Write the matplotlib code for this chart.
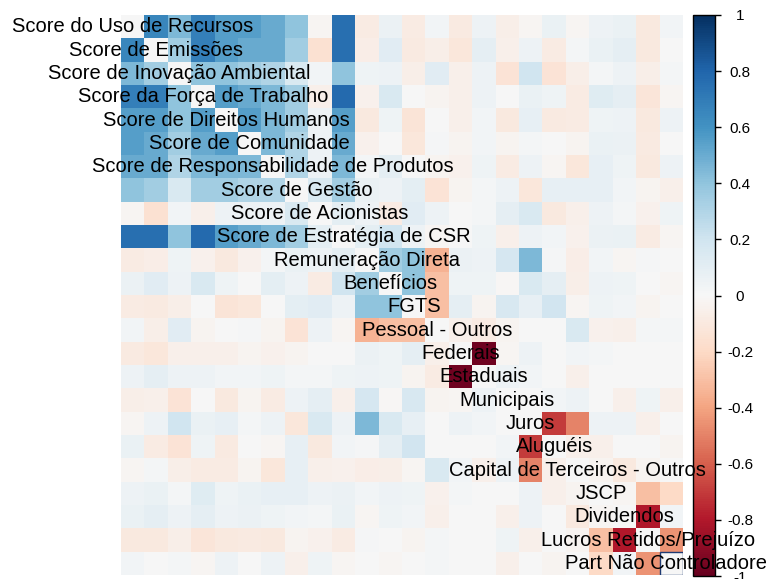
import matplotlib.pyplot as plt
import numpy as np
from matplotlib.patches import Rectangle

plt.rcParams['font.family'] = ['Liberation Sans', 'DejaVu Sans']

labels = [
    'Score do Uso de Recursos', 'Score de Emissões', 'Score de Inovação Ambiental',
    'Score da Força de Trabalho', 'Score de Direitos Humanos', 'Score de Comunidade',
    'Score de Responsabilidade de Produtos', 'Score de Gestão', 'Score de Acionistas',
    'Score de Estratégia de CSR', 'Remuneração Direta', 'Benefícios', 'FGTS',
    'Pessoal - Outros', 'Federais', 'Estaduais', 'Municipais', 'Juros', 'Aluguéis',
    'Capital de Terceiros - Outros', 'JSCP', 'Dividendos', 'Lucros Retidos/Prejuízo',
    'Part Não Controladores',
]

# lower triangle of the correlation matrix: row i holds columns 0..i-1
lower = [
    [],
    [0.65],
    [0.45, 0.35],
    [0.68, 0.68, 0.40],
    [0.55, 0.55, 0.40, 0.55],
    [0.55, 0.50, 0.35, 0.50, 0.55],
    [0.50, 0.50, 0.30, 0.45, 0.45, 0.45],
    [0.40, 0.35, 0.15, 0.35, 0.35, 0.30, 0.30],
    [-0.02, -0.15, 0.03, -0.05, 0.05, 0.05, 0.05, 0.15],
    [0.75, 0.75, 0.40, 0.78, 0.55, 0.50, 0.45, 0.35, 0.10],
    [-0.08, -0.07, 0.04, -0.04, -0.10, -0.04, 0.02, 0.07, 0.05, 0.10],
    [0.06, 0.11, 0.05, 0.15, 0.04, 0.00, 0.10, 0.05, -0.08, 0.20, 0.35],
    [-0.08, -0.09, -0.06, 0.00, -0.13, -0.11, 0.00, 0.10, 0.11, 0.05, 0.40, 0.40],
    [0.03, -0.06, 0.11, -0.03, 0.00, 0.01, -0.03, -0.14, 0.05, -0.02, -0.35, -0.30,
     -0.30],
    [-0.09, -0.11, -0.05, -0.05, -0.05, -0.03, -0.04, -0.03, 0.00, 0.00, 0.06, 0.04,
     0.09, -0.05],
    [0.05, 0.09, 0.05, 0.05, 0.03, 0.03, 0.04, 0.02, 0.02, 0.04, 0.05, 0.04, -0.03,
     -0.08, -0.97],
    [-0.06, -0.05, -0.14, 0.00, -0.10, -0.03, -0.08, 0.05, 0.09, -0.05, 0.17, -0.01,
     0.16, -0.03, -0.02, 0.05],
    [-0.02, 0.05, 0.20, 0.07, 0.08, 0.02, 0.05, -0.11, 0.15, 0.05, 0.45, 0.15, 0.08,
     0.00, 0.05, 0.03, 0.00],
    [0.07, -0.08, -0.14, 0.04, -0.09, 0.00, -0.02, 0.08, -0.10, 0.03, 0.01, 0.09,
     0.19, 0.00, 0.00, 0.00, 0.03, -0.70],
    [-0.02, 0.02, -0.06, -0.08, -0.08, -0.03, -0.11, 0.08, -0.05, -0.04, -0.07, -0.06,
     -0.02, 0.15, 0.03, -0.05, 0.05, -0.50, -0.05],
    [0.05, 0.07, 0.02, 0.12, 0.04, 0.07, 0.08, 0.08, 0.05, 0.06, 0.03, 0.05, 0.04,
     -0.04, 0.02, 0.00, 0.00, 0.05, -0.05, -0.03],
    [0.07, 0.09, 0.05, 0.09, 0.05, 0.06, 0.04, 0.03, 0.02, 0.07, -0.02, 0.04, 0.03,
     -0.05, 0.00, 0.00, -0.05, 0.05, 0.00, -0.10, -0.02],
    [-0.10, -0.10, -0.06, -0.12, -0.10, -0.09, -0.10, -0.03, -0.04, -0.08, 0.01, 0.00,
     -0.03, 0.02, 0.00, 0.00, 0.04, -0.05, 0.00, -0.03, -0.30, -0.80],
    [0.03, 0.00, 0.02, -0.02, 0.05, 0.00, 0.05, -0.05, 0.04, -0.02, 0.00, -0.02, 0.00,
     0.02, 0.00, 0.00, -0.05, 0.00, -0.03, 0.00, -0.20, 0.03, -0.45],
]

cbar_ticks = [-1, -0.8, -0.6, -0.4, -0.2, 0, 0.2, 0.4, 0.6, 0.8, 1]
cbar_labels = ['-1', '-0.8', '-0.6', '-0.4', '-0.2', '0', '0.2', '0.4', '0.6', '0.8', '1']

n = len(labels)
corr = np.zeros((n, n))
for i, row in enumerate(lower):
    for j, v in enumerate(row):
        corr[i, j] = v
        corr[j, i] = v
# diagonal stays blank (white)

W, H = 766, 579
fig = plt.figure(figsize=(W / 100, H / 100), dpi=100)

cax = fig.add_axes([693 / W, 1 - 576 / H, 22 / W, 561 / H])

ax = fig.add_axes([121 / W, 1 - 575 / H, 562 / W, 560 / H])
ax.set_zorder(3)  # diagonal labels go over the colour bar, like the original
im = ax.imshow(corr, cmap='RdBu', vmin=-1, vmax=1, aspect='auto',
               interpolation='nearest')
ax.set_axis_off()

for i, lab in enumerate(labels):
    ax.text(i, i, lab, ha='center', va='center', fontsize=14.5,
            color='black', clip_on=False, zorder=5)

ax.add_patch(Rectangle((n - 1.5, n - 1.5), 1, 1, fill=False,
                       edgecolor='#1f3b73', lw=1, zorder=4))

cb = fig.colorbar(im, cax=cax, ticks=cbar_ticks)
cb.set_ticklabels(cbar_labels)
cb.outline.set_linewidth(1)
cb.outline.set_edgecolor('black')
cax.tick_params(length=4, width=1, pad=14, labelsize=11)
for t in cax.get_yticklabels():
    t.set_horizontalalignment('center')

fig.savefig('out.png', dpi=100)
